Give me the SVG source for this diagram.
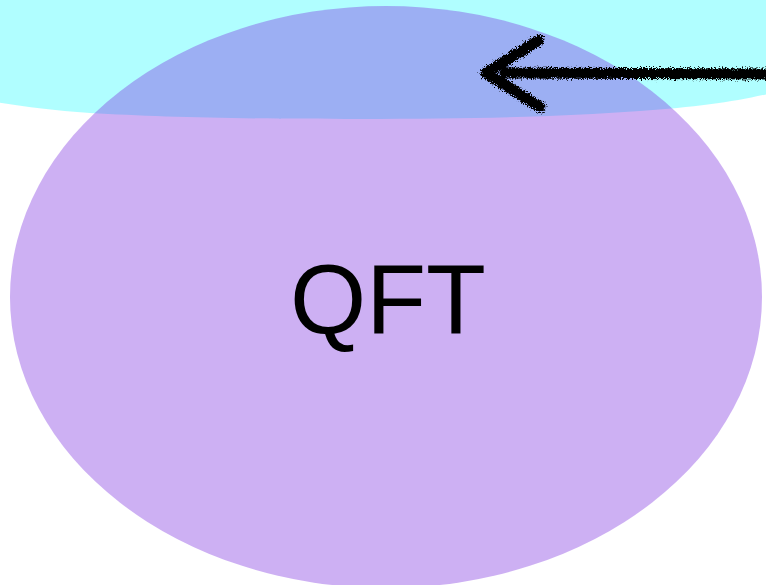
<svg xmlns="http://www.w3.org/2000/svg" width="766" height="585" viewBox="0 0 766 585">
  <defs>
    <style>
      .region-top { fill: #00fcff; fill-opacity: 0.31; }
      .region-main { fill: #7c2fe0; fill-opacity: 0.38; }
      .label { font-family: "Liberation Sans", Arial, sans-serif; font-size: 98px; fill: #000; }
      .rough { fill: none; stroke: #000; stroke-width: 11; stroke-linecap: round; stroke-linejoin: round; }
    </style>
    <!-- chalky, ragged edge for the hand-drawn arrow -->
    <filter id="chalk" x="-5%" y="-30%" width="110%" height="160%">
      <feTurbulence type="fractalNoise" baseFrequency="0.8" numOctaves="3" seed="7" result="noise"/>
      <feDisplacementMap in="SourceGraphic" in2="noise" scale="8" xChannelSelector="R" yChannelSelector="G"/>
    </filter>
  </defs>

  <rect width="766" height="585" fill="#ffffff"/>

  <g id="node-top">
    <path class="region-top" d="M -10,-10 L 776,-10 L 776,92 C 740,101 700,107 640,111 C 560,117 470,119 360,119 C 240,119 160,117 90,113 C 50,110 20,106 -10,101 Z"/>
  </g>

  <g id="node-qft">
    <ellipse class="region-main" cx="386" cy="297" rx="376" ry="291"/>
    <text class="label" x="388" y="333" text-anchor="middle">QFT</text>
  </g>

  <g id="connectors" filter="url(#chalk)">
    <path class="rough" d="M 770,74 L 505,73"/>
    <path class="rough" d="M 539,40 L 486,73 L 540,107"/>
  </g>
</svg>
